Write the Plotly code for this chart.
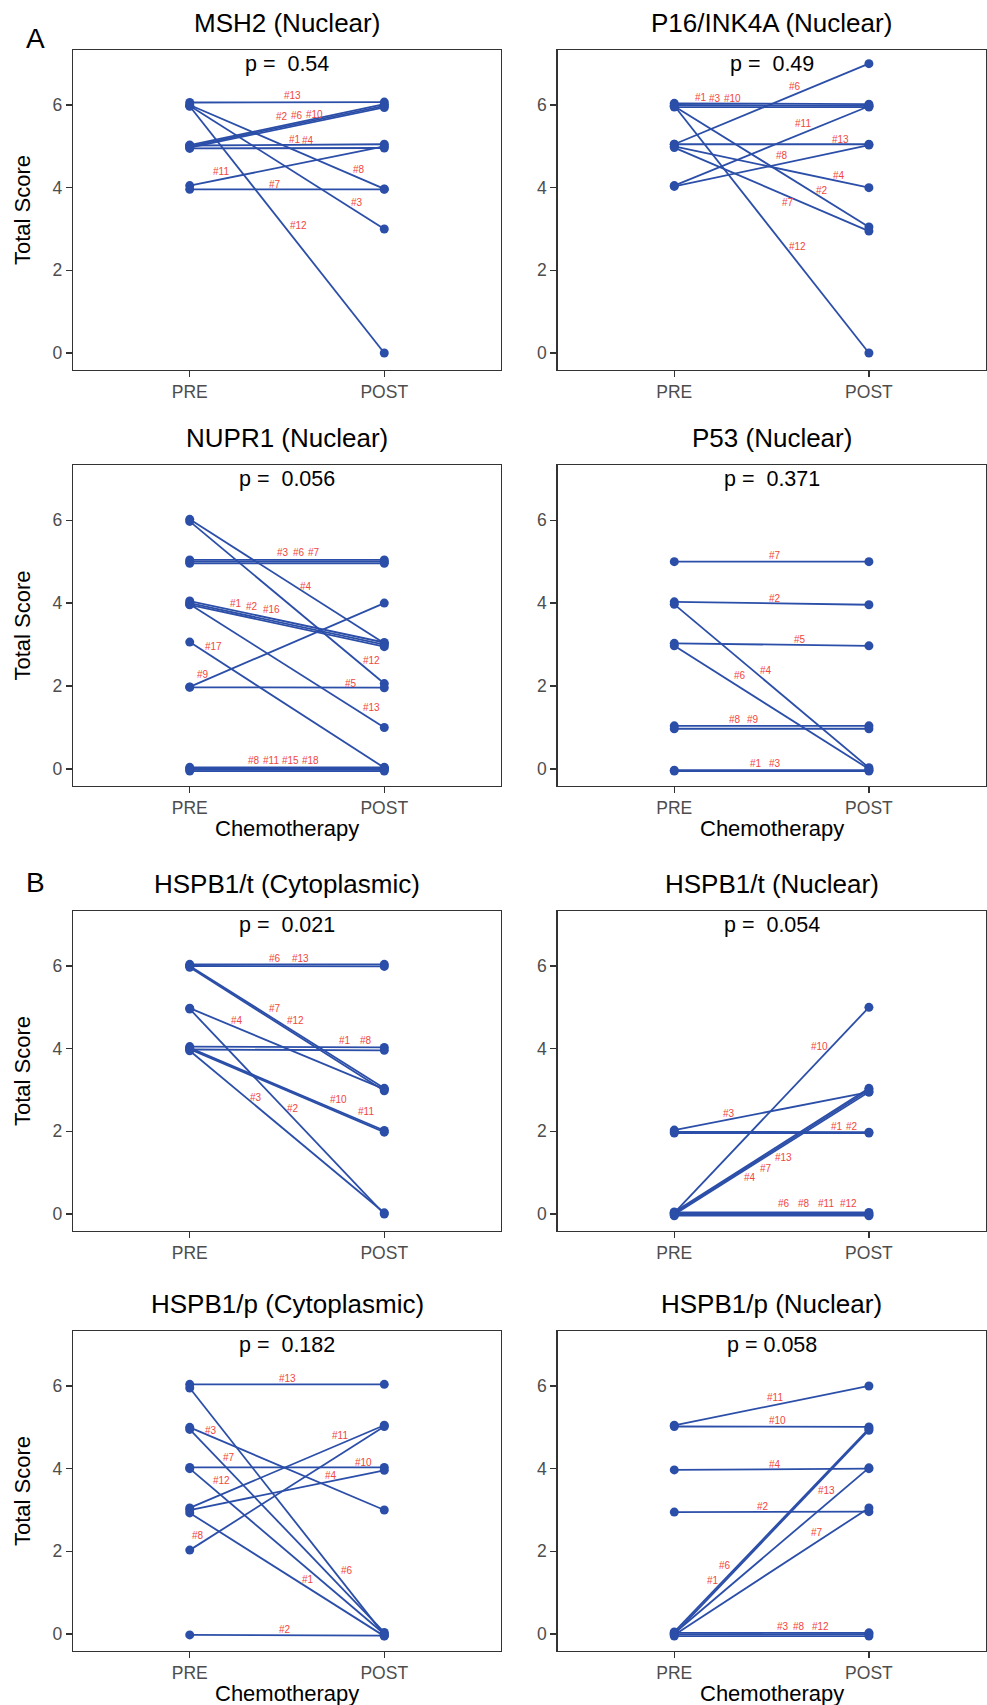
import plotly.graph_objects as go

# ---------------- data ----------------
categories = ["PRE", "POST"]
y_ticks = [0, 2, 4, 6]

titles = ["MSH2 (Nuclear)", "P16/INK4A (Nuclear)", "NUPR1 (Nuclear)", "P53 (Nuclear)",
          "HSPB1/t (Cytoplasmic)", "HSPB1/t (Nuclear)", "HSPB1/p (Cytoplasmic)", "HSPB1/p (Nuclear)"]
p_texts = ["p = \u00a00.54", "p = \u00a00.49", "p = \u00a00.056", "p = \u00a00.371",
           "p = \u00a00.021", "p = \u00a00.054", "p = \u00a00.182", "p = 0.058"]

msh2_ids = ["#13", "#8", "#3", "#12", "#2", "#6", "#10", "#1", "#4", "#11", "#7"]
msh2_pre = [6.06, 6.00, 5.98, 5.97, 5.03, 5.00, 4.97, 5.02, 4.95, 4.05, 3.96]
msh2_post = [6.07, 3.97, 3.00, 0.00, 6.02, 5.98, 5.94, 5.05, 4.96, 5.00, 3.96]

p16_ids = ["#1", "#3", "#10", "#2", "#12", "#6", "#13", "#4", "#7", "#11", "#8"]
p16_pre = [6.04, 6.00, 5.95, 5.97, 5.98, 5.05, 5.05, 5.00, 4.97, 4.05, 4.03]
p16_post = [6.02, 5.98, 5.95, 3.05, 0.00, 7.00, 5.05, 4.00, 2.95, 5.97, 5.03]

nupr1_ids = ["#4", "#12", "#3", "#6", "#7", "#1", "#2", "#16", "#13", "#17", "#9", "#5",
             "#8", "#11", "#15", "#18"]
nupr1_pre = [6.02, 5.97, 5.04, 5.00, 4.96, 4.05, 4.00, 3.96, 3.97, 3.06, 1.98, 1.97,
             0.04, 0.01, -0.02, -0.05]
nupr1_post = [3.03, 2.06, 5.04, 5.00, 4.96, 3.05, 3.00, 2.95, 1.00, 0.03, 4.00, 1.96,
              0.04, 0.01, -0.02, -0.05]

p53_ids = ["#7", "#2", "#4", "#5", "#6", "#8", "#9", "#1", "#3"]
p53_pre = [5.00, 4.03, 3.97, 3.03, 2.97, 1.04, 0.97, -0.03, -0.05]
p53_post = [5.00, 3.96, 0.03, 2.97, 0.00, 1.04, 0.97, -0.03, -0.05]

hspb1t_cyto_ids = ["#6", "#13", "#7", "#12", "#4", "#2", "#1", "#8", "#10", "#11", "#3"]
hspb1t_cyto_pre = [6.04, 6.00, 6.00, 5.97, 4.98, 4.96, 4.05, 3.98, 4.02, 3.99, 3.95]
hspb1t_cyto_post = [6.04, 5.99, 3.04, 2.98, 3.02, 0.00, 4.03, 3.96, 2.02, 1.98, 0.03]

hspb1t_nuc_ids = ["#10", "#3", "#1", "#2", "#13", "#7", "#4", "#6", "#8", "#11", "#12"]
hspb1t_nuc_pre = [0.03, 2.03, 1.99, 1.96, 0.05, 0.02, -0.01, 0.04, 0.01, -0.02, -0.04]
hspb1t_nuc_post = [5.00, 2.95, 1.98, 1.96, 3.04, 3.00, 2.95, 0.04, 0.01, -0.02, -0.04]

hspb1p_cyto_ids = ["#13", "#6", "#3", "#7", "#10", "#12", "#11", "#4", "#1", "#8", "#2"]
hspb1p_cyto_pre = [6.04, 5.95, 5.00, 4.95, 4.03, 4.00, 3.05, 3.00, 2.93, 2.03, -0.02]
hspb1p_cyto_post = [6.04, -0.02, 3.00, 0.04, 4.03, 0.00, 5.05, 3.96, -0.05, 5.02, -0.04]

hspb1p_nuc_ids = ["#11", "#10", "#6", "#1", "#4", "#13", "#2", "#7", "#3", "#8", "#12"]
hspb1p_nuc_pre = [5.05, 5.02, 0.05, 0.00, 3.97, 0.02, 2.95, -0.02, 0.03, -0.01, -0.05]
hspb1p_nuc_post = [6.00, 5.01, 4.97, 4.93, 4.00, 4.02, 2.96, 3.05, 0.03, 0.00, -0.05]

# label placement (fraction along the segment, vertical offset in data units)
msh2_lab_t = [0.53, 0.87, 0.86, 0.56, 0.475, 0.55, 0.64, 0.54, 0.61, 0.16, 0.44]
msh2_lab_dy = [0.16, 0.20, 0.23, 0.46, 0.22, 0.20, 0.17, 0.13, 0.19, 0.19, 0.12]
p16_lab_t = [0.135, 0.21, 0.30, 0.76, 0.635, 0.62, 0.855, 0.846, 0.585, 0.66, 0.555]
p16_lab_dy = [0.14, 0.16, 0.20, 0.17, 0.40, 0.20, 0.12, 0.14, -0.14, 0.23, 0.19]
nupr1_lab_t = [0.60, 0.935, 0.48, 0.56, 0.64, 0.24, 0.32, 0.42, 0.935, 0.12, 0.07, 0.83,
               0.33, 0.42, 0.52, 0.62]
nupr1_lab_dy = [0.17, 0.31, 0.17, 0.21, 0.25, 0.19, 0.24, 0.30, 0.29, 0.25, 0.16, 0.11,
                0.16, 0.19, 0.22, 0.25]
p53_lab_t = [0.52, 0.52, 0.47, 0.645, 0.34, 0.31, 0.405, 0.42, 0.52]
p53_lab_dy = [0.14, 0.12, 0.25, 0.12, 0.29, 0.15, 0.22, 0.17, 0.19]
hspb1t_cyto_lab_t = [0.44, 0.57, 0.44, 0.545, 0.245, 0.533, 0.80, 0.905, 0.766, 0.904, 0.34]
hspb1t_cyto_lab_dy = [0.14, 0.19, 0.27, 0.34, 0.19, 0.23, 0.16, 0.23, 0.28, 0.30, 0.21]
hspb1t_nuc_lab_t = [0.745, 0.28, 0.837, 0.914, 0.56, 0.47, 0.39, 0.563, 0.666, 0.78, 0.894]
hspb1t_nuc_lab_dy = [0.33, 0.14, 0.14, 0.16, -0.36, -0.32, -0.26, 0.21, 0.24, 0.27, 0.29]
hspb1p_cyto_lab_t = [0.50, 0.81, 0.108, 0.20, 0.894, 0.162, 0.77, 0.726, 0.61, 0.044, 0.49]
hspb1p_cyto_lab_dy = [0.14, 0.42, 0.13, 0.30, 0.12, 0.36, 0.21, 0.15, 0.20, 0.22, 0.14]
hspb1p_nuc_lab_t = [0.52, 0.53, 0.262, 0.20, 0.52, 0.78, 0.457, 0.733, 0.556, 0.642, 0.75]
hspb1p_nuc_lab_dy = [0.18, 0.14, 0.31, 0.32, 0.12, 0.34, 0.13, 0.22, 0.16, 0.19, 0.24]

panels = [
    (msh2_ids, msh2_pre, msh2_post, msh2_lab_t, msh2_lab_dy),
    (p16_ids, p16_pre, p16_post, p16_lab_t, p16_lab_dy),
    (nupr1_ids, nupr1_pre, nupr1_post, nupr1_lab_t, nupr1_lab_dy),
    (p53_ids, p53_pre, p53_post, p53_lab_t, p53_lab_dy),
    (hspb1t_cyto_ids, hspb1t_cyto_pre, hspb1t_cyto_post, hspb1t_cyto_lab_t, hspb1t_cyto_lab_dy),
    (hspb1t_nuc_ids, hspb1t_nuc_pre, hspb1t_nuc_post, hspb1t_nuc_lab_t, hspb1t_nuc_lab_dy),
    (hspb1p_cyto_ids, hspb1p_cyto_pre, hspb1p_cyto_post, hspb1p_cyto_lab_t, hspb1p_cyto_lab_dy),
    (hspb1p_nuc_ids, hspb1p_nuc_pre, hspb1p_nuc_post, hspb1p_nuc_lab_t, hspb1p_nuc_lab_dy),
]

# ---------------- layout / style ----------------
W, H = 987, 1705
FONT = "Liberation Sans, Arial, Helvetica, sans-serif"
BLUE = "#2B4EA8"
RED = "#F0473C"
DARK = "#333333"
TICKGREY = "#4D4D4D"

col_px = [(73.0, 501.0), (557.5, 985.7)]
row_px = [(50.0, 370.0), (465.0, 786.0), (911.0, 1231.0), (1331.0, 1651.0)]
title_y_px = [23, 438, 884, 1304]
XR = [-0.6, 1.6]
YR = [-0.41, 7.33]

fig = go.Figure()
annotations = []
layout_axes = {}

for i, (ids, pre, post, lt, ldy) in enumerate(panels):
    r, c = divmod(i, 2)
    n = i + 1
    xa = "x" if n == 1 else f"x{n}"
    ya = "y" if n == 1 else f"y{n}"
    x0, x1 = col_px[c]
    y0, y1 = row_px[r]

    # lines
    for pid, a, b in zip(ids, pre, post):
        fig.add_trace(go.Scatter(
            x=[0, 1], y=[a, b], mode="lines", xaxis=xa, yaxis=ya,
            line=dict(color=BLUE, width=1.8), showlegend=False, hoverinfo="skip"))
    # points
    fig.add_trace(go.Scatter(
        x=[0] * len(pre) + [1] * len(post), y=list(pre) + list(post),
        mode="markers", xaxis=xa, yaxis=ya,
        marker=dict(color=BLUE, size=9, line=dict(width=0)),
        showlegend=False, hoverinfo="skip"))
    # patient labels
    for pid, a, b, t, dy in zip(ids, pre, post, lt, ldy):
        annotations.append(dict(
            x=t, y=a + t * (b - a) + dy, xref=xa, yref=ya, text=pid, showarrow=False,
            font=dict(family=FONT, size=10, color=RED)))
    # p value
    annotations.append(dict(
        x=0.5, y=7.0, xref=xa, yref=ya, text=p_texts[i], showarrow=False,
        font=dict(family=FONT, size=21.5, color="black")))
    # title
    annotations.append(dict(
        x=(x0 + x1) / 2 / W, y=1 - title_y_px[r] / H, xref="paper", yref="paper",
        text=titles[i], showarrow=False, xanchor="center", yanchor="middle",
        font=dict(family=FONT, size=26, color="black")))
    # axis titles
    if c == 0:
        annotations.append(dict(
            x=22 / W, y=1 - (y0 + y1) / 2 / H, xref="paper", yref="paper",
            text="Total Score", textangle=-90, showarrow=False,
            xanchor="center", yanchor="middle",
            font=dict(family=FONT, size=22, color="black")))
    if r in (1, 3):
        annotations.append(dict(
            x=(x0 + x1) / 2 / W, y=1 - (y1 + 42) / H, xref="paper", yref="paper",
            text="Chemotherapy", showarrow=False, xanchor="center", yanchor="middle",
            font=dict(family=FONT, size=22, color="black")))

    axis_common = dict(showgrid=False, zeroline=False, showline=True, mirror=True,
                       linecolor=DARK, linewidth=1.3, ticks="outside", ticklen=6,
                       tickwidth=1.2, tickcolor=DARK,
                       tickfont=dict(family=FONT, size=17.5, color=TICKGREY))
    layout_axes["xaxis" if n == 1 else f"xaxis{n}"] = dict(
        domain=[x0 / W, x1 / W], range=XR, tickvals=[0, 1], ticktext=categories,
        anchor=ya, fixedrange=True, **axis_common)
    layout_axes["yaxis" if n == 1 else f"yaxis{n}"] = dict(
        domain=[1 - y1 / H, 1 - y0 / H], range=YR, tickvals=y_ticks,
        ticktext=[str(v) for v in y_ticks], anchor=xa, fixedrange=True, **axis_common)

# panel letters
annotations.append(dict(x=24 / W, y=1 - 21 / H, xref="paper", yref="paper", text="A",
                        showarrow=False, font=dict(family=FONT, size=28, color="black")))
annotations.append(dict(x=24 / W, y=1 - 882 / H, xref="paper", yref="paper", text="B",
                        showarrow=False, font=dict(family=FONT, size=28, color="black")))

fig.update_layout(
    width=W, height=H, autosize=False,
    margin=dict(l=0, r=0, t=0, b=0),
    paper_bgcolor="white", plot_bgcolor="white",
    annotations=annotations, showlegend=False,
    font=dict(family=FONT),
    **layout_axes)

fig.write_html("out.html",
               config={"displayModeBar": False, "staticPlot": True},
               post_script="document.body.style.margin='0';document.body.style.overflow='hidden';")
